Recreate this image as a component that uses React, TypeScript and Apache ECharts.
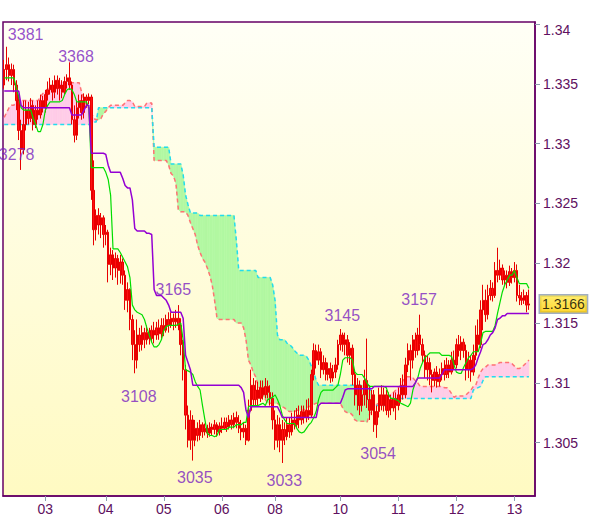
import React, { useEffect, useRef } from 'react';
import * as echarts from 'echarts';

const dayLabels = ['03', '04', '05', '06', '08', '10', '11', '12', '13'];
const dayStartIndex = [17, 42, 66, 90, 112, 139, 163, 187, 211];
const slotCount = 220;

// [open, close, low, high]
const candles: number[][] = [
  [1.3349,1.3362,1.3346,1.3370],[1.3362,1.3366,1.3353,1.3381],[1.3366,1.3357,1.3352,1.3372],[1.3357,1.3362,1.3349,1.3367],[1.3362,1.3349,1.3343,1.3366],[1.3349,1.3336,1.3328,1.3353],[1.3336,1.3311,1.3303,1.3341],[1.3311,1.3295,1.3278,1.3320],[1.3295,1.3316,1.3291,1.3336],[1.3316,1.3328,1.3311,1.3336],
  [1.3328,1.3321,1.3316,1.3335],[1.3321,1.3332,1.3318,1.3338],[1.3332,1.3316,1.3311,1.3336],[1.3316,1.3328,1.3313,1.3332],[1.3328,1.3324,1.3320,1.3336],[1.3324,1.3336,1.3321,1.3341],[1.3336,1.3330,1.3326,1.3340],[1.3330,1.3341,1.3326,1.3345],[1.3341,1.3345,1.3336,1.3352],[1.3345,1.3349,1.3341,1.3355],
  [1.3349,1.3343,1.3336,1.3353],[1.3343,1.3353,1.3338,1.3357],[1.3353,1.3346,1.3341,1.3357],[1.3346,1.3349,1.3336,1.3355],[1.3349,1.3343,1.3338,1.3353],[1.3343,1.3352,1.3341,1.3356],[1.3352,1.3355,1.3346,1.3358],[1.3355,1.3349,1.3345,1.3368],[1.3349,1.3320,1.3316,1.3352],[1.3320,1.3307,1.3301,1.3332],
  [1.3307,1.3330,1.3303,1.3336],[1.3330,1.3336,1.3321,1.3341],[1.3336,1.3326,1.3320,1.3341],[1.3326,1.3339,1.3321,1.3342],[1.3339,1.3336,1.3330,1.3341],[1.3336,1.3339,1.3333,1.3342],[1.3339,1.3261,1.3253,1.3341],[1.3261,1.3228,1.3215,1.3286],[1.3228,1.3240,1.3219,1.3245],[1.3240,1.3232,1.3224,1.3246],
  [1.3232,1.3238,1.3221,1.3242],[1.3238,1.3224,1.3213,1.3240],[1.3224,1.3226,1.3215,1.3232],[1.3226,1.3199,1.3184,1.3228],[1.3199,1.3207,1.3190,1.3213],[1.3207,1.3196,1.3186,1.3211],[1.3196,1.3204,1.3188,1.3209],[1.3204,1.3194,1.3182,1.3207],[1.3194,1.3201,1.3183,1.3207],[1.3201,1.3190,1.3182,1.3204],
  [1.3190,1.3169,1.3161,1.3194],[1.3169,1.3178,1.3159,1.3184],[1.3178,1.3153,1.3144,1.3179],[1.3153,1.3132,1.3119,1.3157],[1.3132,1.3119,1.3108,1.3144],[1.3119,1.3140,1.3112,1.3153],[1.3140,1.3132,1.3126,1.3146],[1.3132,1.3142,1.3127,1.3148],[1.3142,1.3136,1.3129,1.3146],[1.3136,1.3142,1.3132,1.3148],
  [1.3142,1.3137,1.3132,1.3146],[1.3137,1.3144,1.3134,1.3148],[1.3144,1.3140,1.3133,1.3151],[1.3140,1.3146,1.3136,1.3151],[1.3146,1.3141,1.3136,1.3153],[1.3141,1.3148,1.3137,1.3154],[1.3148,1.3144,1.3139,1.3154],[1.3144,1.3153,1.3142,1.3157],[1.3153,1.3148,1.3142,1.3159],[1.3148,1.3154,1.3146,1.3159],
  [1.3154,1.3151,1.3144,1.3158],[1.3151,1.3154,1.3146,1.3161],[1.3154,1.3148,1.3144,1.3165],[1.3148,1.3132,1.3123,1.3154],[1.3132,1.3111,1.3102,1.3136],[1.3111,1.3073,1.3061,1.3115],[1.3073,1.3052,1.3046,1.3081],[1.3052,1.3069,1.3044,1.3077],[1.3069,1.3052,1.3035,1.3073],[1.3052,1.3062,1.3047,1.3069],
  [1.3062,1.3056,1.3051,1.3067],[1.3056,1.3065,1.3052,1.3069],[1.3065,1.3059,1.3054,1.3067],[1.3059,1.3062,1.3056,1.3066],[1.3062,1.3058,1.3054,1.3065],[1.3058,1.3063,1.3055,1.3067],[1.3063,1.3061,1.3056,1.3066],[1.3061,1.3065,1.3057,1.3069],[1.3065,1.3059,1.3055,1.3067],[1.3059,1.3064,1.3056,1.3067],
  [1.3064,1.3062,1.3058,1.3071],[1.3062,1.3067,1.3061,1.3071],[1.3067,1.3063,1.3059,1.3071],[1.3063,1.3069,1.3061,1.3073],[1.3069,1.3065,1.3061,1.3073],[1.3065,1.3071,1.3062,1.3075],[1.3071,1.3067,1.3062,1.3076],[1.3067,1.3062,1.3058,1.3073],[1.3062,1.3059,1.3052,1.3069],[1.3059,1.3062,1.3054,1.3067],
  [1.3062,1.3052,1.3048,1.3065],[1.3052,1.3077,1.3051,1.3086],[1.3077,1.3098,1.3076,1.3111],[1.3098,1.3086,1.3081,1.3104],[1.3086,1.3094,1.3081,1.3102],[1.3094,1.3087,1.3081,1.3101],[1.3087,1.3096,1.3084,1.3102],[1.3096,1.3090,1.3086,1.3102],[1.3090,1.3097,1.3087,1.3104],[1.3097,1.3092,1.3087,1.3102],
  [1.3092,1.3087,1.3081,1.3098],[1.3087,1.3069,1.3061,1.3092],[1.3069,1.3052,1.3044,1.3077],[1.3052,1.3065,1.3046,1.3073],[1.3065,1.3052,1.3042,1.3071],[1.3052,1.3061,1.3033,1.3069],[1.3061,1.3055,1.3048,1.3067],[1.3055,1.3065,1.3052,1.3071],[1.3065,1.3059,1.3054,1.3071],[1.3059,1.3069,1.3056,1.3075],
  [1.3069,1.3065,1.3061,1.3077],[1.3065,1.3073,1.3062,1.3079],[1.3073,1.3069,1.3062,1.3081],[1.3069,1.3076,1.3065,1.3081],[1.3076,1.3071,1.3066,1.3081],[1.3071,1.3077,1.3067,1.3086],[1.3077,1.3073,1.3069,1.3087],[1.3073,1.3107,1.3071,1.3111],[1.3107,1.3127,1.3102,1.3133],[1.3127,1.3119,1.3112,1.3132],
  [1.3119,1.3126,1.3115,1.3132],[1.3126,1.3111,1.3104,1.3129],[1.3111,1.3117,1.3107,1.3123],[1.3117,1.3107,1.3102,1.3121],[1.3107,1.3112,1.3102,1.3117],[1.3112,1.3104,1.3100,1.3117],[1.3104,1.3109,1.3101,1.3115],[1.3109,1.3115,1.3104,1.3121],[1.3115,1.3132,1.3111,1.3136],[1.3132,1.3140,1.3127,1.3145],
  [1.3140,1.3132,1.3126,1.3142],[1.3132,1.3136,1.3123,1.3142],[1.3136,1.3123,1.3117,1.3140],[1.3123,1.3129,1.3115,1.3134],[1.3129,1.3107,1.3098,1.3132],[1.3107,1.3090,1.3081,1.3111],[1.3090,1.3098,1.3077,1.3104],[1.3098,1.3081,1.3073,1.3102],[1.3081,1.3090,1.3076,1.3098],[1.3090,1.3102,1.3081,1.3111],
  [1.3102,1.3086,1.3079,1.3137],[1.3086,1.3077,1.3069,1.3098],[1.3077,1.3090,1.3073,1.3094],[1.3090,1.3065,1.3059,1.3094],[1.3065,1.3076,1.3054,1.3081],[1.3076,1.3090,1.3071,1.3096],[1.3090,1.3081,1.3077,1.3098],[1.3081,1.3090,1.3076,1.3096],[1.3090,1.3077,1.3073,1.3094],[1.3077,1.3086,1.3071,1.3092],
  [1.3086,1.3079,1.3073,1.3090],[1.3079,1.3087,1.3076,1.3092],[1.3087,1.3081,1.3069,1.3092],[1.3081,1.3090,1.3077,1.3096],[1.3090,1.3098,1.3084,1.3104],[1.3098,1.3090,1.3086,1.3107],[1.3090,1.3115,1.3087,1.3121],[1.3115,1.3127,1.3109,1.3133],[1.3127,1.3119,1.3102,1.3132],[1.3119,1.3136,1.3112,1.3140],
  [1.3136,1.3127,1.3121,1.3142],[1.3127,1.3140,1.3123,1.3146],[1.3140,1.3132,1.3127,1.3157],[1.3132,1.3123,1.3117,1.3137],[1.3123,1.3111,1.3104,1.3127],[1.3111,1.3117,1.3102,1.3123],[1.3117,1.3107,1.3098,1.3121],[1.3107,1.3102,1.3092,1.3111],[1.3102,1.3109,1.3097,1.3112],[1.3109,1.3101,1.3096,1.3114],
  [1.3101,1.3107,1.3097,1.3112],[1.3107,1.3112,1.3102,1.3117],[1.3112,1.3107,1.3102,1.3119],[1.3107,1.3115,1.3104,1.3121],[1.3115,1.3109,1.3104,1.3119],[1.3109,1.3119,1.3107,1.3126],[1.3119,1.3115,1.3111,1.3127],[1.3115,1.3132,1.3112,1.3137],[1.3132,1.3127,1.3122,1.3140],[1.3127,1.3134,1.3119,1.3139],
  [1.3134,1.3127,1.3121,1.3137],[1.3127,1.3111,1.3102,1.3132],[1.3111,1.3119,1.3104,1.3126],[1.3119,1.3109,1.3101,1.3123],[1.3109,1.3123,1.3106,1.3132],[1.3123,1.3140,1.3119,1.3148],[1.3140,1.3132,1.3126,1.3153],[1.3132,1.3161,1.3129,1.3169],[1.3161,1.3169,1.3144,1.3182],[1.3169,1.3157,1.3151,1.3178],
  [1.3157,1.3173,1.3153,1.3182],[1.3173,1.3179,1.3169,1.3186],[1.3179,1.3173,1.3168,1.3184],[1.3173,1.3194,1.3171,1.3201],[1.3194,1.3190,1.3184,1.3213],[1.3190,1.3196,1.3186,1.3203],[1.3196,1.3186,1.3182,1.3199],[1.3186,1.3190,1.3182,1.3194],[1.3190,1.3184,1.3179,1.3194],[1.3184,1.3193,1.3181,1.3198],
  [1.3193,1.3188,1.3183,1.3196],[1.3188,1.3194,1.3184,1.3201],[1.3194,1.3173,1.3168,1.3199],[1.3173,1.3171,1.3165,1.3182],[1.3171,1.3169,1.3165,1.3176],[1.3169,1.3173,1.3166,1.3178],[1.3173,1.3165,1.3159,1.3176],[1.3165,1.3166,1.3161,1.3178],
];

const tenkan = [
  1.3355,1.3355,1.3355,1.3355,1.3355,1.3347,1.3339,1.3330,1.3328,1.3328,
  1.3328,1.3328,1.3321,1.3316,1.3310,1.3310,1.3316,1.3328,1.3332,1.3335,
  1.3335,1.3335,1.3335,1.3335,1.3336,1.3341,1.3345,1.3346,1.3345,1.3341,
  1.3335,1.3335,1.3335,1.3335,1.3335,1.3330,1.3280,1.3280,1.3280,1.3280,
  1.3280,1.3280,1.3276,1.3270,1.3257,1.3212,1.3212,1.3212,1.3209,1.3205,
  1.3201,1.3197,1.3188,1.3165,1.3161,1.3159,1.3158,1.3157,1.3153,1.3146,
  1.3140,1.3134,1.3130,1.3130,1.3132,1.3136,1.3144,1.3147,1.3148,1.3148,
  1.3148,1.3148,1.3149,1.3150,1.3136,1.3111,1.3110,1.3109,1.3107,1.3101,
  1.3097,1.3094,1.3081,1.3069,1.3058,1.3056,1.3056,1.3055,1.3056,1.3061,
  1.3061,1.3061,1.3061,1.3063,1.3063,1.3063,1.3065,1.3065,1.3065,1.3067,
  1.3067,1.3080,1.3081,1.3081,1.3081,1.3081,1.3082,1.3083,1.3081,1.3086,
  1.3087,1.3088,1.3090,1.3086,1.3081,1.3073,1.3069,1.3066,1.3066,1.3066,
  1.3066,1.3062,1.3059,1.3058,1.3059,1.3062,1.3065,1.3067,1.3071,1.3076,
  1.3086,1.3092,1.3094,1.3094,1.3094,1.3094,1.3094,1.3096,1.3098,1.3107,
  1.3119,1.3121,1.3121,1.3121,1.3119,1.3109,1.3107,1.3107,1.3107,1.3104,
  1.3100,1.3097,1.3097,1.3097,1.3097,1.3097,1.3097,1.3097,1.3096,1.3090,
  1.3087,1.3087,1.3086,1.3085,1.3083,1.3082,1.3081,1.3080,1.3083,1.3094,
  1.3100,1.3104,1.3112,1.3117,1.3121,1.3123,1.3125,1.3125,1.3125,1.3125,
  1.3125,1.3123,1.3123,1.3123,1.3123,1.3122,1.3115,1.3109,1.3108,1.3108,
  1.3113,1.3117,1.3121,1.3123,1.3126,1.3126,1.3126,1.3133,1.3142,1.3143,
  1.3143,1.3143,1.3143,1.3148,1.3158,1.3167,1.3176,1.3182,1.3186,1.3190,
  1.3190,1.3194,1.3188,1.3183,1.3183,1.3183,1.3183,1.3179,
];

const kijun = [
  1.3344,1.3344,1.3344,1.3344,1.3344,1.3344,1.3344,1.3332,1.3330,1.3330,
  1.3330,1.3330,1.3330,1.3330,1.3330,1.3330,1.3330,1.3330,1.3330,1.3330,
  1.3330,1.3330,1.3330,1.3330,1.3330,1.3330,1.3330,1.3330,1.3324,1.3324,
  1.3324,1.3324,1.3324,1.3328,1.3332,1.3332,1.3292,1.3292,1.3292,1.3292,
  1.3292,1.3292,1.3291,1.3282,1.3276,1.3276,1.3276,1.3276,1.3276,1.3271,
  1.3265,1.3263,1.3263,1.3253,1.3229,1.3227,1.3227,1.3227,1.3227,1.3225,
  1.3225,1.3224,1.3178,1.3173,1.3173,1.3173,1.3171,1.3169,1.3165,1.3159,
  1.3159,1.3159,1.3159,1.3159,1.3154,1.3123,1.3117,1.3111,1.3098,1.3098,
  1.3098,1.3098,1.3098,1.3098,1.3098,1.3098,1.3098,1.3098,1.3098,1.3098,
  1.3098,1.3098,1.3098,1.3098,1.3098,1.3098,1.3098,1.3098,1.3096,1.3092,
  1.3077,1.3071,1.3080,1.3080,1.3080,1.3080,1.3080,1.3080,1.3080,1.3080,
  1.3080,1.3080,1.3080,1.3080,1.3076,1.3071,1.3071,1.3071,1.3071,1.3071,
  1.3071,1.3071,1.3071,1.3071,1.3071,1.3071,1.3071,1.3071,1.3071,1.3071,
  1.3081,1.3083,1.3083,1.3083,1.3083,1.3083,1.3083,1.3083,1.3083,1.3083,
  1.3088,1.3094,1.3095,1.3095,1.3095,1.3095,1.3095,1.3095,1.3095,1.3095,
  1.3095,1.3095,1.3095,1.3097,1.3097,1.3097,1.3097,1.3097,1.3097,1.3097,
  1.3097,1.3097,1.3097,1.3097,1.3097,1.3097,1.3097,1.3097,1.3097,1.3097,
  1.3100,1.3104,1.3104,1.3104,1.3104,1.3104,1.3104,1.3104,1.3104,1.3104,
  1.3104,1.3107,1.3111,1.3111,1.3111,1.3111,1.3111,1.3111,1.3111,1.3111,
  1.3111,1.3111,1.3111,1.3111,1.3112,1.3115,1.3121,1.3126,1.3132,1.3133,
  1.3136,1.3140,1.3142,1.3146,1.3153,1.3154,1.3156,1.3156,1.3158,1.3158,
  1.3158,1.3158,1.3158,1.3158,1.3158,1.3158,1.3158,1.3158,
];

const spanA = [
  1.3322,1.3326,1.3330,1.3332,1.3332,1.3336,1.3336,1.3336,1.3336,1.3336,
  1.3336,1.3336,1.3336,1.3336,1.3336,1.3339,1.3342,1.3343,1.3346,1.3346,
  1.3347,1.3350,1.3350,1.3351,1.3351,1.3351,1.3351,1.3351,1.3351,1.3351,
  1.3351,1.3351,1.3343,1.3336,1.3332,1.3330,1.3326,1.3321,1.3320,1.3320,
  1.3321,1.3325,1.3327,1.3330,1.3332,1.3332,1.3332,1.3332,1.3332,1.3332,
  1.3334,1.3336,1.3336,1.3335,1.3331,1.3331,1.3331,1.3331,1.3331,1.3334,
  1.3334,1.3334,1.3286,1.3286,1.3286,1.3286,1.3286,1.3286,1.3282,1.3275,
  1.3273,1.3267,1.3245,1.3243,1.3243,1.3243,1.3240,1.3234,1.3229,1.3224,
  1.3215,1.3209,1.3204,1.3201,1.3196,1.3190,1.3182,1.3169,1.3154,1.3153,
  1.3153,1.3153,1.3153,1.3153,1.3153,1.3153,1.3150,1.3150,1.3150,1.3146,
  1.3136,1.3119,1.3115,1.3109,1.3105,1.3098,1.3094,1.3090,1.3086,1.3083,
  1.3083,1.3083,1.3083,1.3083,1.3081,1.3080,1.3079,1.3077,1.3076,1.3076,
  1.3076,1.3077,1.3077,1.3077,1.3077,1.3079,1.3080,1.3081,1.3082,1.3083,
  1.3083,1.3083,1.3083,1.3083,1.3083,1.3083,1.3083,1.3083,1.3083,1.3083,
  1.3079,1.3076,1.3075,1.3075,1.3073,1.3069,1.3068,1.3068,1.3068,1.3068,
  1.3067,1.3073,1.3080,1.3081,1.3082,1.3083,1.3084,1.3086,1.3087,1.3088,
  1.3091,1.3092,1.3094,1.3096,1.3098,1.3102,1.3105,1.3105,1.3105,1.3104,
  1.3102,1.3100,1.3097,1.3097,1.3097,1.3097,1.3097,1.3097,1.3097,1.3097,
  1.3097,1.3097,1.3096,1.3096,1.3094,1.3091,1.3088,1.3089,1.3089,1.3089,
  1.3089,1.3090,1.3092,1.3094,1.3097,1.3098,1.3104,1.3109,1.3112,1.3113,
  1.3115,1.3115,1.3115,1.3115,1.3116,1.3117,1.3117,1.3117,1.3117,1.3117,
  1.3116,1.3114,1.3112,1.3112,1.3113,1.3115,1.3117,1.3119,
];

const spanB = [
  1.3316,1.3316,1.3316,1.3316,1.3316,1.3316,1.3316,1.3316,1.3316,1.3316,
  1.3316,1.3316,1.3316,1.3316,1.3316,1.3316,1.3316,1.3316,1.3316,1.3316,
  1.3316,1.3316,1.3316,1.3316,1.3316,1.3316,1.3316,1.3316,1.3316,1.3316,
  1.3316,1.3316,1.3316,1.3316,1.3316,1.3316,1.3318,1.3318,1.3318,1.3330,
  1.3330,1.3330,1.3330,1.3330,1.3330,1.3330,1.3330,1.3330,1.3330,1.3330,
  1.3330,1.3330,1.3330,1.3330,1.3330,1.3330,1.3330,1.3330,1.3330,1.3330,
  1.3330,1.3330,1.3297,1.3297,1.3297,1.3297,1.3297,1.3297,1.3297,1.3283,
  1.3283,1.3283,1.3283,1.3283,1.3274,1.3257,1.3249,1.3242,1.3242,1.3242,
  1.3242,1.3240,1.3240,1.3240,1.3240,1.3240,1.3240,1.3240,1.3240,1.3240,
  1.3240,1.3240,1.3240,1.3240,1.3240,1.3240,1.3219,1.3194,1.3194,1.3194,
  1.3194,1.3194,1.3194,1.3194,1.3194,1.3188,1.3188,1.3188,1.3188,1.3188,
  1.3188,1.3182,1.3169,1.3140,1.3136,1.3136,1.3136,1.3133,1.3132,1.3130,
  1.3127,1.3125,1.3123,1.3123,1.3123,1.3122,1.3119,1.3114,1.3109,1.3102,
  1.3098,1.3098,1.3098,1.3098,1.3098,1.3098,1.3098,1.3098,1.3098,1.3098,
  1.3098,1.3098,1.3098,1.3098,1.3098,1.3098,1.3098,1.3098,1.3098,1.3098,
  1.3098,1.3098,1.3090,1.3081,1.3081,1.3081,1.3081,1.3081,1.3081,1.3081,
  1.3081,1.3082,1.3087,1.3087,1.3087,1.3087,1.3087,1.3087,1.3087,1.3087,
  1.3087,1.3087,1.3087,1.3087,1.3087,1.3087,1.3087,1.3087,1.3087,1.3087,
  1.3087,1.3087,1.3087,1.3087,1.3087,1.3087,1.3087,1.3087,1.3087,1.3087,
  1.3087,1.3087,1.3087,1.3087,1.3094,1.3095,1.3096,1.3097,1.3102,1.3105,
  1.3105,1.3105,1.3105,1.3105,1.3105,1.3105,1.3105,1.3105,1.3105,1.3105,
  1.3105,1.3105,1.3105,1.3105,1.3105,1.3105,1.3105,1.3105,
];

const extremeIndex = [1, 27, 7, 72, 54, 78, 115, 139, 154, 172];
const extremeValue = [1.3381, 1.3368, 1.3278, 1.3165, 1.3108, 1.3035, 1.3033, 1.3145, 1.3054, 1.3157];
const yTickValues = [1.305, 1.31, 1.315, 1.32, 1.325, 1.33, 1.335, 1.34];

// layout / style (not data)
const extremeLabelOffset = [[19, -12], [6.5, -6], [-4.5, -15.5], [-5, -16], [4, 23], [2, 16.5], [2, 18], [2, -14], [1.5, 16], [-1, -15]];
const FONT = 'Liberation Sans, Arial, sans-serif';
const PINK = '#ffcce8';
const GREEN = '#b2f8a2';

export default function App() {
  const ref = useRef<HTMLDivElement>(null);

  useEffect(() => {
    if (!ref.current) return;
    const chart = echarts.init(ref.current, null, { renderer: 'svg' });

    const categories = Array.from({ length: slotCount }, (_, i) => {
      const k = dayStartIndex.indexOf(i);
      return k >= 0 ? dayLabels[k] : 't' + i;
    });
    const showDay = (index: number) => dayStartIndex.indexOf(index) >= 0;

    const cloudData: number[][] = [];
    for (let i = 0; i < spanA.length - 1; i++) {
      cloudData.push([i, spanA[i], spanB[i], spanA[i + 1], spanB[i + 1]]);
    }

    const lastIndex = candles.length - 1;
    const lastClose = candles[lastIndex][1];

    const option: any = {
      animation: false,
      backgroundColor: '#ffffff',
      grid: {
        left: 3,
        right: 65,
        top: 22,
        bottom: 23,
        show: true,
        outerBoundsMode: 'none',
        backgroundColor: new echarts.graphic.LinearGradient(0, 0, 0, 1, [
          { offset: 0, color: '#fffff6' },
          { offset: 1, color: '#fffac2' },
        ]),
        borderColor: '#660066',
        borderWidth: 1.5,
      },
      xAxis: {
        type: 'category',
        data: categories,
        boundaryGap: true,
        axisLine: { show: true, lineStyle: { color: '#660066', width: 1.5 } },
        axisTick: { show: true, interval: showDay, alignWithLabel: true, length: 5, lineStyle: { color: '#8c9cae' } },
        axisLabel: { interval: showDay, color: '#601060', fontSize: 14, fontFamily: FONT, margin: 6 },
        splitLine: { show: false },
      },
      yAxis: {
        type: 'value',
        position: 'right',
        min: 1.30054,
        max: 1.34017,
        scale: true,
        splitLine: { show: false },
        axisLine: { show: true, lineStyle: { color: '#660066', width: 1.5 } },
        axisTick: { show: true, length: 5, lineStyle: { color: '#8c9cae' }, customValues: yTickValues },
        axisLabel: {
          customValues: yTickValues,
          margin: 8,
          color: '#601060',
          fontSize: 14,
          fontFamily: FONT,
          formatter: (v: number) => {
            const s = String(parseFloat(Number(v).toFixed(3)));
            return v > 1.3399 ? '{top|' + s + '}' : s;
          },
          rich: { top: { padding: [12, 0, 0, 0], color: '#601060', fontSize: 14, fontFamily: FONT } },
        },
      },
      series: [
        {
          type: 'custom',
          z: 1,
          silent: true,
          clip: true,
          data: cloudData,
          encode: { x: 0, y: [1, 2, 3, 4] },
          renderItem: (_params: any, api: any) => {
            const i = api.value(0);
            const a0 = api.value(1), b0 = api.value(2), a1 = api.value(3), b1 = api.value(4);
            const pA0 = api.coord([i, a0]);
            const pB0 = api.coord([i, b0]);
            const pA1 = api.coord([i + 1, a1]);
            const pB1 = api.coord([i + 1, b1]);
            const d0 = a0 - b0, d1 = a1 - b1;
            const col = (d: number) => (d >= 0 ? PINK : GREEN);
            const poly = (pts: number[][], c: string) => ({
              type: 'polygon',
              shape: { points: pts },
              style: { fill: c, stroke: c, lineWidth: 0.6 },
            });
            const children: any[] = [];
            if (d0 * d1 < 0) {
              const t = d0 / (d0 - d1);
              const xm = pA0[0] + t * (pA1[0] - pA0[0]);
              const ym = pA0[1] + t * (pA1[1] - pA0[1]);
              children.push(poly([pA0, [xm, ym], pB0], col(d0)));
              children.push(poly([[xm, ym], pA1, pB1], col(d1)));
            } else {
              const d = Math.abs(d0) >= Math.abs(d1) ? d0 : d1;
              children.push(poly([pA0, pA1, pB1, pB0], col(d)));
            }
            return { type: 'group', children };
          },
        },
        {
          type: 'line',
          name: 'Senkou A',
          z: 2,
          silent: true,
          data: spanA,
          symbol: 'none',
          showSymbol: false,
          lineStyle: { color: '#ff7373', width: 1.5, type: [4, 3] },
        },
        {
          type: 'line',
          name: 'Senkou B',
          z: 2,
          silent: true,
          data: spanB,
          symbol: 'none',
          showSymbol: false,
          lineStyle: { color: '#22dcee', width: 1.5, type: [4, 3] },
        },
        {
          type: 'candlestick',
          z: 3,
          silent: true,
          data: candles,
          barWidth: 2,
          itemStyle: {
            color: '#ff1010',
            color0: '#ff1010',
            borderColor: '#e80000',
            borderColor0: '#e80000',
            borderWidth: 1,
          },
        },
        {
          type: 'line',
          name: 'Tenkan',
          z: 4,
          silent: true,
          data: tenkan,
          symbol: 'none',
          showSymbol: false,
          lineStyle: { color: '#00dd00', width: 1.2 },
        },
        {
          type: 'line',
          name: 'Kijun',
          z: 4,
          silent: true,
          data: kijun,
          symbol: 'none',
          showSymbol: false,
          lineStyle: { color: '#9400d3', width: 1.5 },
        },
        {
          type: 'scatter',
          z: 5,
          silent: true,
          symbol: 'circle',
          symbolSize: 0.1,
          itemStyle: { color: 'rgba(0,0,0,0)' },
          data: extremeIndex.map((idx, k) => ({
            value: [idx, extremeValue[k]],
            label: { offset: extremeLabelOffset[k] },
          })),
          label: {
            show: true,
            position: 'inside',
            formatter: (p: any) => String(Math.round(p.value[1] * 10000)).slice(1),
            color: '#7a1fc0',
            fontSize: 16,
            fontFamily: FONT,
          },
        },
        {
          type: 'scatter',
          name: 'Last price',
          z: 6,
          silent: true,
          symbol: 'circle',
          symbolSize: 0.1,
          itemStyle: { color: 'rgba(0,0,0,0)' },
          data: [[lastIndex, lastClose]],
          label: {
            show: true,
            position: 'right',
            distance: 11,
            formatter: (p: any) => Number(p.value[1]).toFixed(4),
            color: '#000000',
            fontSize: 14,
            fontFamily: FONT,
            backgroundColor: new echarts.graphic.LinearGradient(0, 0, 0, 1, [
              { offset: 0, color: '#ffe94a' },
              { offset: 1, color: '#ffcc00' },
            ]),
            borderColor: '#8a9ab0',
            borderWidth: 1.5,
            padding: [2, 2, 1, 2],
          },
        },
      ],
    };

    chart.setOption(option);
    return () => chart.dispose();
  }, []);

  return <div ref={ref} style={{ position: 'fixed', left: 0, top: 0, width: 600, height: 519 }} />;
}
